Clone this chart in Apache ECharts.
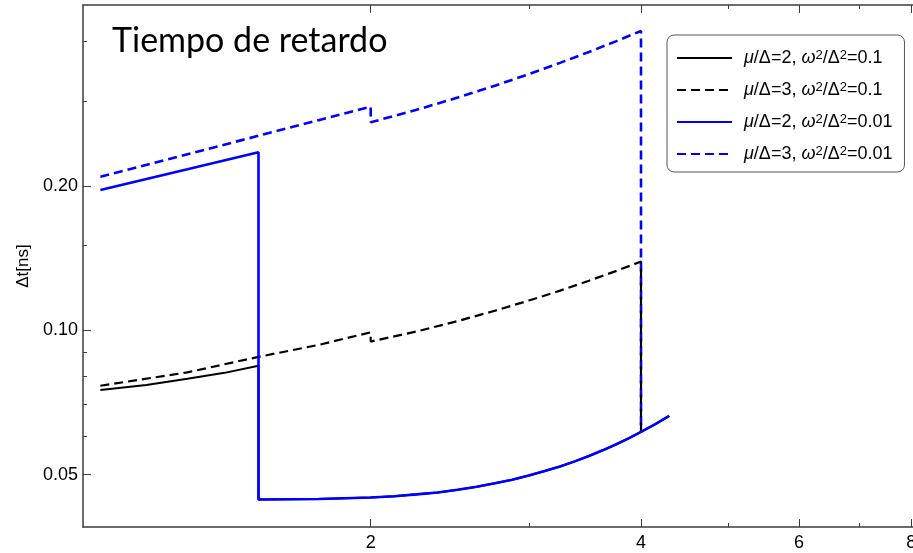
<!DOCTYPE html>
<html>
<head>
<meta charset="utf-8">
<script src="https://cdn.jsdelivr.net/npm/echarts@6/dist/echarts.min.js"></script>
<style>
  html, body { margin: 0; padding: 0; background: #ffffff; }
  #chart { width: 913px; height: 553px; }
</style>
</head>
<body>
<div id="chart"></div>
<script>
// Series labels (legend text)
const seriesNames = [
  'μ/Δ=2, ω2/Δ2=0.1',
  'μ/Δ=3, ω2/Δ2=0.1',
  'μ/Δ=2, ω2/Δ2=0.01',
  'μ/Δ=3, ω2/Δ2=0.01'
];

// μ/Δ=2, ω²/Δ²=0.1 (black, solid) — jumps onto the lower branch at 1.5
const xMu2W01 = [1, 1.125, 1.25, 1.375, 1.5, 1.5, 1.75, 2, 2.125, 2.25, 2.375, 2.5, 2.625, 2.75, 2.875, 3, 3.125, 3.25, 3.375, 3.5, 3.625, 3.75, 3.875, 4, 4.15, 4.3];
const tMu2W01 = [0.0751, 0.0769, 0.0792, 0.0815, 0.0843, 0.0444, 0.0445, 0.0448, 0.0451, 0.0455, 0.0459, 0.0465, 0.0472, 0.0480, 0.0488, 0.0498, 0.0509, 0.0520, 0.0533, 0.0547, 0.0562, 0.0578, 0.0595, 0.0614, 0.0637, 0.0663];

// μ/Δ=3, ω²/Δ²=0.1 (black, dashed)
const xMu3W01 = [1, 1.25, 1.5, 1.75, 2, 2, 2.25, 2.5, 2.75, 3, 3.25, 3.5, 3.75, 4, 4];
const tMu3W01 = [0.0766, 0.0817, 0.0880, 0.0932, 0.0990, 0.0947, 0.0994, 0.1045, 0.1098, 0.1153, 0.1209, 0.1268, 0.1328, 0.1390, 0.0614];

// μ/Δ=2, ω²/Δ²=0.01 (blue, solid)
const xMu2W001 = [1, 1.25, 1.5, 1.5, 1.75, 2, 2.125, 2.25, 2.375, 2.5, 2.625, 2.75, 2.875, 3, 3.125, 3.25, 3.375, 3.5, 3.625, 3.75, 3.875, 4, 4.15, 4.3];
const tMu2W001 = [0.196, 0.2165, 0.2349, 0.0444, 0.0445, 0.0448, 0.0451, 0.0455, 0.0459, 0.0465, 0.0472, 0.0480, 0.0488, 0.0498, 0.0509, 0.0520, 0.0533, 0.0547, 0.0562, 0.0578, 0.0595, 0.0614, 0.0637, 0.0663];

// μ/Δ=3, ω²/Δ²=0.01 (blue, dashed)
const xMu3W001 = [1, 1.25, 1.5, 1.75, 2, 2, 2.25, 2.5, 2.75, 3, 3.25, 3.5, 3.75, 4, 4];
const tMu3W001 = [0.2089, 0.2327, 0.2542, 0.2740, 0.2923, 0.2712, 0.2879, 0.3053, 0.3232, 0.3417, 0.3607, 0.3801, 0.3999, 0.4203, 0.0614];

// Axis ranges and ticks
const xRange = [0.9564, 8.035];
const yRange = [0.0389, 0.4761];
const xMajorTicks = [2, 4, 6, 8];
const xMinorTicks = [3, 5, 7];
const yMajorTicks = [0.05, 0.1, 0.2];
const yMinorTicks = [0.06, 0.07, 0.08, 0.09, 0.15, 0.3, 0.4];

const zip = (xs, ys) => xs.map((x, i) => [x, ys[i]]);

const axisColor = '#3c3c3c';
const labelFont = 'Liberation Sans, Arial, sans-serif';
const dashPattern = [9, 5];

function logX(extra) {
  return Object.assign({
    type: 'log', logBase: 2, min: xRange[0], max: xRange[1],
    splitLine: { show: false }, minorTick: { show: false }
  }, extra);
}
function logY(extra) {
  return Object.assign({
    type: 'log', logBase: 2, min: yRange[0], max: yRange[1],
    splitLine: { show: false }, minorTick: { show: false }
  }, extra);
}

// Legend text: italic μ and ω, raised exponents
function legendText(name) {
  return name
    .replace(/[μω]/g, ch => '{it|' + ch + '}')
    .replace(/2\//g, '{sup|2}/')
    .replace(/Δ2=/g, 'Δ{sup|2}=');
}

const chart = echarts.init(document.getElementById('chart'), null, { renderer: 'canvas' });

chart.setOption({
  animation: false,
  backgroundColor: '#ffffff',
  title: {
    text: 'Tiempo de retardo',
    left: 112, top: 24, padding: 0,
    textStyle: { fontFamily: 'Lato, sans-serif', fontSize: 34, fontWeight: 'normal', color: '#000' }
  },
  grid: { left: 83, top: 5, right: 0, bottom: 26, containLabel: false, outerBoundsMode: 'none' },
  legend: {
    orient: 'vertical',
    left: 667, top: 35,
    padding: [14, 12, 9, 9],
    itemWidth: 55, itemHeight: 14, itemGap: 14,
    borderColor: '#555', borderWidth: 1, borderRadius: 7,
    backgroundColor: '#ffffff',
    itemStyle: { opacity: 0 },
    data: seriesNames,
    formatter: legendText,
    textStyle: {
      fontFamily: labelFont, fontSize: 18, lineHeight: 18, color: '#000', padding: [0, 0, 0, 7],
      rich: {
        it: { fontFamily: labelFont, fontSize: 18, lineHeight: 18, fontStyle: 'italic', color: '#000' },
        sup: { fontFamily: labelFont, fontSize: 13, lineHeight: 18, verticalAlign: 'top', color: '#000' }
      }
    }
  },
  xAxis: [
    logX({
      position: 'bottom',
      axisLine: { show: true, lineStyle: { color: axisColor, width: 1.5 } },
      axisTick: { show: true, inside: true, length: 8, customValues: xMajorTicks, lineStyle: { color: axisColor, width: 1 } },
      axisLabel: { show: true, customValues: xMajorTicks, margin: 7, fontFamily: labelFont, fontSize: 18, color: '#000',
        formatter: v => String(Math.round(v)) }
    }),
    logX({
      position: 'bottom',
      axisLine: { show: false },
      axisTick: { show: true, inside: true, length: 4, customValues: xMinorTicks, lineStyle: { color: axisColor, width: 1 } },
      axisLabel: { show: false }
    }),
    logX({
      position: 'top',
      axisLine: { show: true, lineStyle: { color: axisColor, width: 1.5 } },
      axisTick: { show: true, inside: true, length: 8, customValues: xMajorTicks, lineStyle: { color: axisColor, width: 1 } },
      axisLabel: { show: false }
    }),
    logX({
      position: 'top',
      axisLine: { show: false },
      axisTick: { show: true, inside: true, length: 4, customValues: xMinorTicks, lineStyle: { color: axisColor, width: 1 } },
      axisLabel: { show: false }
    })
  ],
  yAxis: [
    logY({
      position: 'left',
      name: 'Δt[ns]', nameLocation: 'middle', nameGap: 50,
      nameTextStyle: { fontFamily: labelFont, fontSize: 17, color: '#000' },
      axisLine: { show: true, lineStyle: { color: axisColor, width: 1.5 } },
      axisTick: { show: true, inside: true, length: 8, customValues: yMajorTicks, lineStyle: { color: axisColor, width: 1 } },
      axisLabel: { show: true, customValues: yMajorTicks, margin: 5, fontFamily: labelFont, fontSize: 18, color: '#000',
        formatter: v => v.toFixed(2) }
    }),
    logY({
      position: 'left',
      axisLine: { show: false },
      axisTick: { show: true, inside: true, length: 4, customValues: yMinorTicks, lineStyle: { color: axisColor, width: 1 } },
      axisLabel: { show: false }
    })
  ],
  series: [
    {
      name: seriesNames[0], type: 'line', symbol: 'none', z: 2,
      xAxisIndex: 0, yAxisIndex: 0,
      lineStyle: { color: '#000000', width: 2, type: 'solid' },
      itemStyle: { color: '#000000' },
      data: zip(xMu2W01, tMu2W01)
    },
    {
      name: seriesNames[1], type: 'line', symbol: 'none', z: 4,
      xAxisIndex: 0, yAxisIndex: 0,
      lineStyle: { color: '#000000', width: 2.2, type: dashPattern },
      itemStyle: { color: '#000000' },
      data: zip(xMu3W01, tMu3W01)
    },
    {
      name: seriesNames[2], type: 'line', symbol: 'none', z: 5,
      xAxisIndex: 0, yAxisIndex: 0,
      lineStyle: { color: '#0000ff', width: 2.6, type: 'solid' },
      itemStyle: { color: '#0000ff' },
      data: zip(xMu2W001, tMu2W001)
    },
    {
      name: seriesNames[3], type: 'line', symbol: 'none', z: 3,
      xAxisIndex: 0, yAxisIndex: 0,
      lineStyle: { color: '#0000ff', width: 2.6, type: dashPattern },
      itemStyle: { color: '#0000ff' },
      data: zip(xMu3W001, tMu3W001)
    }
  ]
});
</script>
</body>
</html>
